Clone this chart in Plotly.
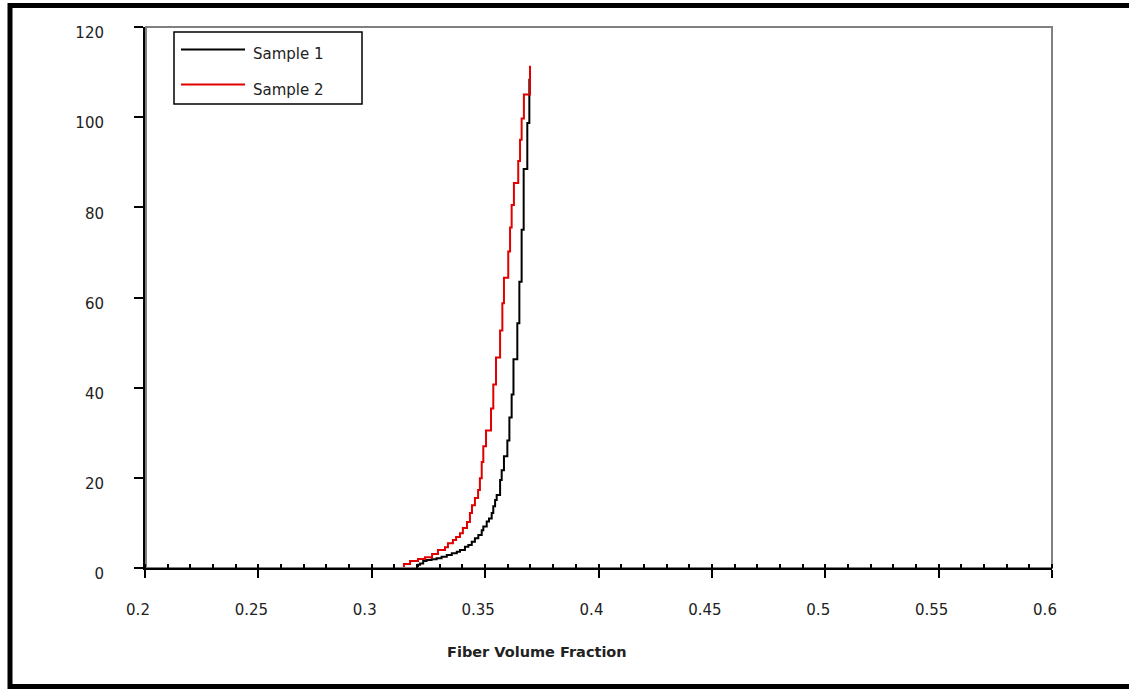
import plotly.graph_objects as go

# Cumulative curves: fiber volume fraction vs. load, two samples (step traces)
SERIES_NAMES = ["Sample 1", "Sample 2"]
SERIES_COLORS = ["#000000", "#e00000"]

S1_X = [0.3204, 0.3213, 0.3227, 0.3242, 0.3264, 0.3286, 0.3308, 0.3331, 0.3353,
        0.3375, 0.3389, 0.3411, 0.3426, 0.3441, 0.3455, 0.3470, 0.3485, 0.3492,
        0.3507, 0.3517, 0.3529, 0.3536, 0.3544, 0.3551, 0.3566, 0.3573, 0.3583,
        0.3598, 0.3607, 0.3617, 0.3625, 0.3642, 0.3651, 0.3661, 0.3670, 0.3686,
        0.3695, 0.3695]
S1_Y = [0.2, 0.7, 1.0, 1.55, 1.77, 1.93, 2.15, 2.5, 2.88,
        3.25, 3.6, 4.0, 4.7, 5.1, 5.8, 6.6, 7.3, 8.4,
        9.2, 10.3, 11.0, 12.2, 13.7, 15.1, 16.2, 19.5, 21.7,
        24.8, 28.3, 33.4, 38.5, 46.3, 54.3, 63.5, 75.0, 88.5,
        98.7, 108.5]

S2_X = [0.3142, 0.3169, 0.3204, 0.3235, 0.3266, 0.3292, 0.3323, 0.3336, 0.3358,
        0.3372, 0.3389, 0.3402, 0.3420, 0.3433, 0.3442, 0.3455, 0.3469, 0.3477,
        0.3485, 0.3492, 0.3504, 0.3526, 0.3536, 0.3548, 0.3566, 0.3576, 0.3583,
        0.3602, 0.3610, 0.3617, 0.3627, 0.3646, 0.3654, 0.3661, 0.3671, 0.3698,
        0.3698]
S2_Y = [0.2, 0.9, 1.55, 2.0, 2.4, 3.1, 4.0, 4.6, 5.5,
        6.2, 6.9, 7.7, 8.9, 10.2, 12.2, 13.9, 15.5, 17.3,
        19.9, 23.5, 27.0, 30.5, 35.4, 40.7, 46.7, 52.7, 58.7,
        64.4, 70.2, 75.5, 80.5, 85.4, 90.3, 95.0, 99.7, 105.0,
        111.4]

X_TICKS = [0.2, 0.25, 0.3, 0.35, 0.4, 0.45, 0.5, 0.55, 0.6]
X_TICK_TEXT = ["0.2", "0.25", "0.3", "0.35", "0.4", "0.45", "0.5", "0.55", "0.6"]
Y_TICKS = [0, 20, 40, 60, 80, 100, 120]
Y_TICK_TEXT = ["0", "20", "40", "60", "80", "100", "120"]
X_TITLE = "Fiber Volume Fraction"

W, H = 1129, 689
PLOT_L, PLOT_R, PLOT_T, PLOT_B = 145, 1052, 27, 568


def px(x):
    """Horizontal page pixel -> paper coordinate."""
    return (x - PLOT_L) / (PLOT_R - PLOT_L)


def py(y):
    """Vertical page pixel -> paper coordinate."""
    return (PLOT_B - y) / (PLOT_B - PLOT_T)


FONT = "DejaVu Sans"
TXT = "#222222"

fig = go.Figure()
for xs, ys, name, color in [(S1_X, S1_Y, SERIES_NAMES[0], SERIES_COLORS[0]),
                            (S2_X, S2_Y, SERIES_NAMES[1], SERIES_COLORS[1])]:
    fig.add_trace(go.Scatter(x=xs, y=ys, name=name, mode="lines",
                             line=dict(color=color, width=2, shape="vh"),
                             showlegend=False))

shapes = [
    # gray plot-area border
    dict(type="rect", xref="paper", yref="paper", x0=px(146), x1=1, y0=0, y1=1,
         line=dict(color="#808080", width=2), layer="below"),
    # outer page frame
    dict(type="rect", xref="paper", yref="paper", x0=px(10), x1=px(1200),
         y0=py(686.5), y1=py(5.5), line=dict(color="#000000", width=5)),
    # legend box
    dict(type="rect", xref="paper", yref="paper", x0=px(174), x1=px(362),
         y0=py(104), y1=py(32), line=dict(color="#000000", width=1.5),
         fillcolor="white"),
]
annotations = []
for i, (name, color) in enumerate(zip(SERIES_NAMES, SERIES_COLORS)):
    ly = 49.5 + i * 35
    shapes.append(dict(type="line", xref="paper", yref="paper",
                       x0=px(181), x1=px(245), y0=py(ly), y1=py(ly),
                       line=dict(color=color, width=2)))
    annotations.append(dict(text=name, xref="paper", yref="paper",
                            x=px(251), y=py(ly + 5), xanchor="left",
                            yanchor="middle", showarrow=False,
                            font=dict(family=FONT, size=15, color=TXT)))

annotations.append(dict(text="<b>" + X_TITLE + "</b>", xref="paper",
                        yref="paper", x=px(537), y=py(652), xanchor="center",
                        yanchor="middle", showarrow=False,
                        font=dict(family=FONT, size=14.5, color=TXT)))

axis_common = dict(showgrid=False, zeroline=False, linecolor="#000000",
                   linewidth=2, tickcolor="#000000", tickwidth=2)

fig.update_layout(
    width=W, height=H, autosize=False,
    margin=dict(l=PLOT_L, r=W - PLOT_R, t=PLOT_T, b=H - PLOT_B, pad=0),
    paper_bgcolor="white", plot_bgcolor="white",
    font=dict(family=FONT, size=15, color=TXT),
    showlegend=False,
    xaxis=dict(range=[0.2, 0.6], tickvals=X_TICKS, ticktext=X_TICK_TEXT,
               ticks="outside", ticklen=8, showline=True,
               ticklabelstandoff=19, ticklabelshift=-7,
               minor=dict(ticks="inside", dtick=0.01, tick0=0.2, ticklen=4,
                          tickwidth=2, tickcolor="#000000"),
               **axis_common),
    xaxis2=dict(range=[0.2, 0.6], overlaying="x", anchor="y", side="bottom",
                tickvals=X_TICKS, ticks="inside", ticklen=9,
                showticklabels=False, showline=False, showgrid=False,
                zeroline=False, tickcolor="#000000", tickwidth=2),
    yaxis=dict(range=[0, 120], tickvals=Y_TICKS, ticktext=Y_TICK_TEXT,
               ticks="outside", ticklen=9, showline=True,
               ticklabelstandoff=27, ticklabelshift=6,
               **axis_common),
    yaxis2=dict(range=[0, 120], overlaying="y", anchor="x", side="left",
                tickvals=Y_TICKS, ticks="inside", ticklen=8,
                showticklabels=False, showline=False, showgrid=False,
                zeroline=False, tickcolor="#000000", tickwidth=2),
    shapes=shapes,
    annotations=annotations,
)

fig.write_html("out.html")
